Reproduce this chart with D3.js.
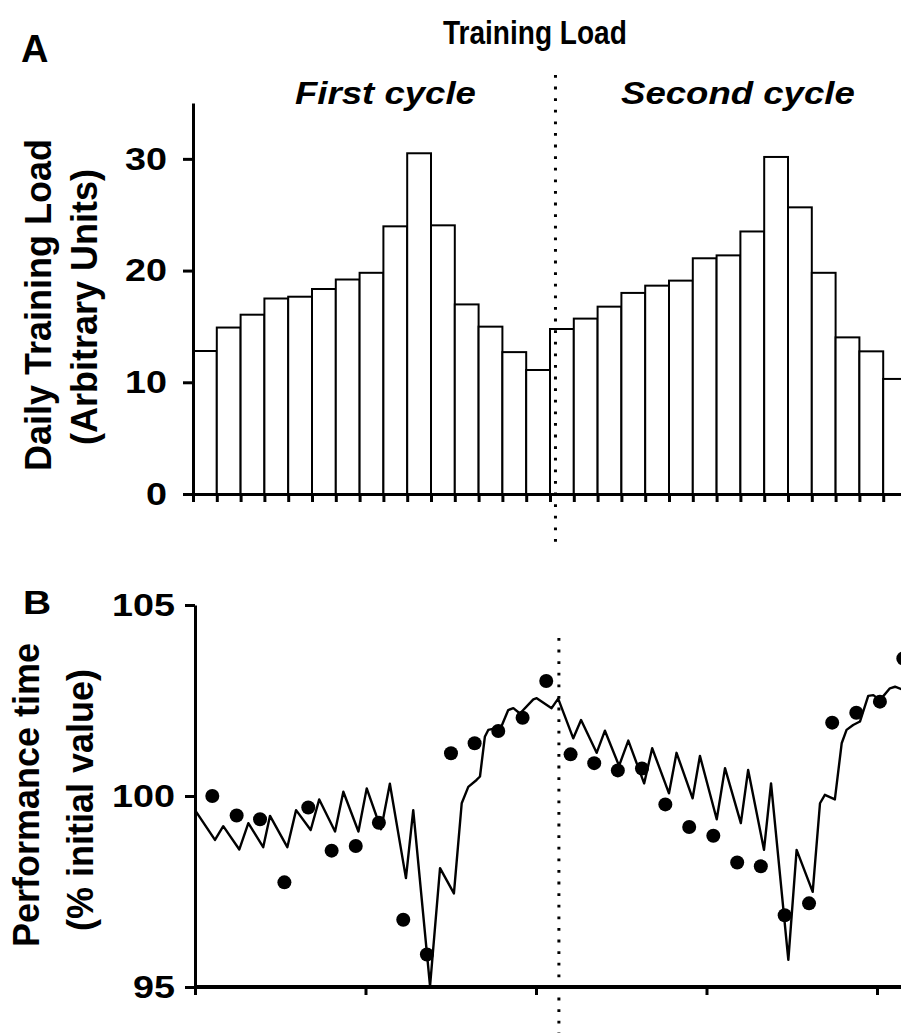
<!DOCTYPE html>
<html><head><meta charset="utf-8">
<script src="https://cdn.jsdelivr.net/npm/d3@7"></script>
<style>body{margin:0;background:#fff} svg{display:block}</style>
</head><body>
<svg id="chart" width="901" height="1033"></svg>
<script>
// ---- data ----
const dailyLoad = [12.8, 14.9, 16.05, 17.5, 17.66, 18.35, 19.2, 19.8, 23.96, 30.5, 24.05, 16.97, 14.98, 12.7, 11.1,
                   14.77, 15.7, 16.77, 18.0, 18.65, 19.1, 21.1, 21.36, 23.5, 30.17, 25.66, 19.8, 14.02, 12.77, 10.3];
const loadTicks = [0, 10, 20, 30];
const perfTicks = [95, 100, 105];
const dayTicks = [0, 7, 14, 21, 28];
const cycleLabels = ["First cycle", "Second cycle"];
const measuredDay = [0.71, 1.71, 2.67, 3.67, 4.65, 5.61, 6.6, 7.55, 8.55, 9.52, 10.51, 11.48, 12.45, 13.45, 14.42,
                     15.42, 16.39, 17.36, 18.35, 19.31, 20.29, 21.28, 22.26, 23.23, 24.21, 25.21, 26.16, 27.15, 28.12, 29.08];
const measuredPerf = [100.0, 99.49, 99.39, 97.74, 99.70, 98.57, 98.69, 99.30, 96.76, 95.85, 101.12, 101.38, 101.70, 102.05, 103.01,
                      101.09, 100.86, 100.67, 100.72, 99.78, 99.19, 98.96, 98.26, 98.16, 96.88, 97.19, 101.92, 102.18, 102.47, 103.6];
const modelDay = [0.0, 0.82, 1.16, 1.82, 2.19, 2.80, 3.08, 3.79, 4.15, 4.75, 5.10, 5.75, 6.09, 6.71, 7.05, 7.64, 8.00, 8.66, 8.96, 9.65,
                  10.06, 10.63, 10.95, 11.22, 11.56, 11.70, 11.90, 12.04, 12.32, 12.52, 12.86, 13.07, 13.34, 13.89, 14.03, 14.64, 14.91,
                  15.53, 15.85, 16.49, 16.83, 17.41, 17.79, 18.44, 18.77, 19.46, 19.77, 20.43, 20.73, 21.42, 21.76, 22.41, 22.71,
                  23.36, 23.65, 24.36, 24.70, 25.36, 25.66, 25.86, 26.27, 26.55, 26.75, 27.02, 27.30, 27.64, 27.85, 28.12, 28.53, 28.74, 29.2];
const modelPerf = [99.63, 98.85, 99.21, 98.60, 99.29, 98.66, 99.48, 98.66, 99.63, 99.11, 99.91, 99.07, 100.11, 99.07, 100.20, 99.13, 100.32, 97.85, 99.63, 95.02,
                   98.11, 97.45, 99.81, 100.24, 100.42, 100.51, 101.55, 101.73, 101.77, 101.73, 102.25, 102.30, 102.16, 102.53, 102.56, 102.30, 102.55,
                   101.51, 101.99, 101.13, 101.71, 100.79, 101.45, 100.33, 101.25, 100.07, 101.13, 99.94, 101.05, 99.39, 100.73, 99.29, 100.68,
                   98.59, 100.33, 95.71, 98.59, 97.49, 99.81, 100.03, 99.91, 101.38, 101.73, 101.86, 101.95, 102.62, 102.64, 102.51, 102.82, 102.86, 102.75];
const topCycleBoundary = 15.23;
const bottomCycleBoundary = 14.94;

// ---- drawing ----
const svg = d3.select("#chart");
const FONT = "'Liberation Sans', Arial, Helvetica, sans-serif";
const SX = 1.18;

function stretchedText(g, x, y, txt, size, opts = {}) {
  const sx = opts.sx || SX;
  return g.append("text")
    .attr("transform", `translate(${x},${y}) scale(${sx},1)`)
    .attr("font-family", FONT).attr("font-weight", "bold")
    .attr("font-style", opts.italic ? "italic" : "normal")
    .attr("font-size", size)
    .attr("text-anchor", opts.anchor || "start")
    .text(txt);
}
function rotText(g, x, y, txt, size) {
  return g.append("text")
    .attr("transform", `translate(${x},${y}) rotate(-90)`)
    .attr("font-family", FONT).attr("font-weight", "bold")
    .attr("font-size", size).attr("text-anchor", "middle").text(txt);
}
function styleAxis(g, w) {
  g.select(".domain").attr("stroke-width", w).attr("stroke", "#000");
  g.selectAll(".tick line").attr("stroke-width", 3).attr("stroke", "#000");
  g.selectAll(".tick text").each(function () {
    const x = +this.getAttribute("x");
    this.setAttribute("x", 0);
    d3.select(this).attr("transform", `translate(${x},0) scale(${SX},1)`)
      .attr("font-family", FONT).attr("font-weight", "bold").attr("font-size", 32).attr("fill", "#000");
  });
}

// Panel A
const xA = d3.scaleLinear().domain([0, 30]).range([193, 907]);
const yA = d3.scaleLinear().domain([0, 35]).range([494, 103]);
const gA = svg.append("g");

gA.selectAll("rect.bar").data(dailyLoad).join("rect").attr("class", "bar")
  .attr("x", (d, i) => xA(i)).attr("width", (d, i) => xA(i + 1) - xA(i))
  .attr("y", d => yA(d)).attr("height", d => yA(0) - yA(d))
  .attr("fill", "#fff").attr("stroke", "#000").attr("stroke-width", 2);

const axAx = gA.append("g").attr("transform", `translate(0,${yA(0)})`)
  .call(d3.axisBottom(xA).tickValues(d3.range(0, 31)).tickSize(8).tickSizeOuter(0).tickFormat(""));
styleAxis(axAx, 3);
const axAy = gA.append("g").attr("transform", `translate(${xA(0)},0)`)
  .call(d3.axisLeft(yA).tickValues(loadTicks).tickSize(10).tickPadding(16).tickSizeOuter(0));
styleAxis(axAy, 3);

gA.append("line").attr("x1", xA(topCycleBoundary)).attr("x2", xA(topCycleBoundary))
  .attr("y1", 75).attr("y2", 548).attr("stroke", "#000").attr("stroke-width", 3)
  .attr("stroke-dasharray", "2.8,8.8");

stretchedText(gA, 21, 62, "A", 38, { sx: 1.0 });
stretchedText(gA, 443, 44, "Training Load", 33, { sx: 0.85 });
stretchedText(gA, 295, 104, cycleLabels[0], 31, { italic: true });
stretchedText(gA, 621, 104, cycleLabels[1], 31, { italic: true });
rotText(gA, 51, 305, "Daily Training Load", 36);
rotText(gA, 97, 307, "(Arbitrary Units)", 36);

// Panel B
const xB = d3.scaleLinear().domain([0, 28]).range([195, 877]);
const yB = d3.scaleLinear().domain([95, 105]).range([987, 605]);
const gB = svg.append("g");

gB.append("line").attr("x1", xB(bottomCycleBoundary)).attr("x2", xB(bottomCycleBoundary))
  .attr("y1", 638).attr("y2", 1033).attr("stroke", "#000").attr("stroke-width", 3)
  .attr("stroke-dasharray", "2.8,8.8");

const line = d3.line().x(d => xB(d[0])).y(d => yB(d[1]));
gB.append("path").datum(modelDay.map((d, i) => [d, modelPerf[i]]))
  .attr("d", line).attr("fill", "none").attr("stroke", "#000").attr("stroke-width", 2.4)
  .attr("stroke-linejoin", "round");

gB.selectAll("circle").data(measuredDay).join("circle")
  .attr("cx", d => xB(d)).attr("cy", (d, i) => yB(measuredPerf[i])).attr("r", 7).attr("fill", "#000");

const axBx = gB.append("g").attr("transform", `translate(0,${yB(95)})`)
  .call(d3.axisBottom(xB).tickValues(dayTicks).tickSize(8).tickSizeOuter(0).tickFormat(""));
styleAxis(axBx, 4);
axBx.select(".domain").attr("d", `M${xB(0)},0H901`);
const axBy = gB.append("g").attr("transform", `translate(${xB(0)},0)`)
  .call(d3.axisLeft(yB).tickValues(perfTicks).tickSize(10).tickPadding(10).tickSizeOuter(0));
styleAxis(axBy, 3);

stretchedText(gB, 23, 614, "B", 33);
rotText(gB, 39, 795, "Performance time", 36);
rotText(gB, 93, 800, "(% initial value)", 36);
</script>
</body></html>
